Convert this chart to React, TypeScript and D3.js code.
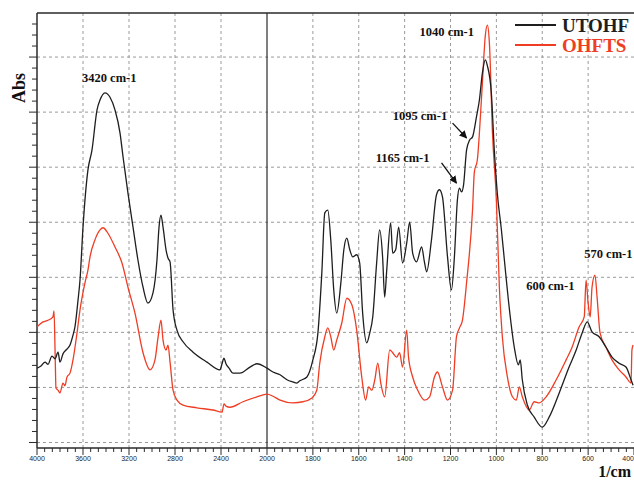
import { useEffect, useRef } from 'react';
import * as d3 from 'd3';

// wavenumbers (1/cm) and absorbance
const utohfWn = [4000, 3965, 3930, 3904, 3870, 3843, 3817, 3800, 3774, 3748, 3713, 3687, 3670, 3643, 3626, 3600, 3557, 3522, 3478, 3452, 3409, 3365, 3322, 3278, 3252, 3209, 3165, 3122, 3078, 3035, 2991, 2957, 2939, 2922, 2904, 2878, 2861, 2843, 2817, 2783, 2730, 2643, 2522, 2409, 2391, 2374, 2357, 2330, 2296, 2235, 2148, 2087, 2000, 1974, 1943, 1913, 1887, 1870, 1857, 1826, 1800, 1778, 1761, 1748, 1735, 1722, 1709, 1696, 1678, 1665, 1652, 1639, 1626, 1609, 1596, 1583, 1565, 1552, 1539, 1522, 1509, 1496, 1487, 1478, 1461, 1452, 1439, 1426, 1409, 1391, 1378, 1365, 1348, 1326, 1313, 1304, 1283, 1261, 1248, 1235, 1213, 1196, 1183, 1170, 1161, 1152, 1143, 1130, 1117, 1104, 1087, 1074, 1061, 1048, 1039, 1022, 1009, 996, 978, 965, 943, 922, 904, 896, 887, 865, 835, 800, 770, 726, 683, 652, 626, 604, 583, 552, 522, 496, 465, 435, 413, 404];
const utohfAbs = [0.135, 0.139, 0.146, 0.142, 0.157, 0.152, 0.164, 0.146, 0.161, 0.168, 0.177, 0.195, 0.21, 0.259, 0.295, 0.391, 0.495, 0.531, 0.604, 0.622, 0.635, 0.627, 0.604, 0.562, 0.519, 0.453, 0.391, 0.331, 0.282, 0.253, 0.272, 0.331, 0.391, 0.413, 0.391, 0.35, 0.335, 0.328, 0.241, 0.204, 0.183, 0.164, 0.146, 0.132, 0.143, 0.153, 0.143, 0.135, 0.126, 0.126, 0.137, 0.143, 0.135, 0.128, 0.123, 0.114, 0.11, 0.108, 0.112, 0.119, 0.15, 0.199, 0.308, 0.417, 0.422, 0.368, 0.277, 0.235, 0.29, 0.35, 0.371, 0.35, 0.337, 0.341, 0.326, 0.235, 0.181, 0.199, 0.228, 0.326, 0.386, 0.337, 0.264, 0.313, 0.399, 0.344, 0.35, 0.391, 0.326, 0.362, 0.4, 0.344, 0.328, 0.355, 0.326, 0.31, 0.368, 0.45, 0.459, 0.446, 0.337, 0.277, 0.337, 0.44, 0.462, 0.455, 0.468, 0.531, 0.549, 0.555, 0.591, 0.622, 0.671, 0.695, 0.684, 0.635, 0.531, 0.453, 0.386, 0.331, 0.241, 0.173, 0.141, 0.15, 0.114, 0.068, 0.046, 0.028, 0.046, 0.09, 0.137, 0.168, 0.199, 0.219, 0.201, 0.192, 0.173, 0.155, 0.144, 0.137, 0.114, 0.104];

const ohftsWn = [4000, 3948, 3904, 3861, 3852, 3843, 3835, 3817, 3800, 3774, 3757, 3739, 3713, 3687, 3652, 3626, 3583, 3557, 3539, 3496, 3452, 3426, 3383, 3322, 3261, 3209, 3148, 3078, 3017, 2974, 2948, 2922, 2904, 2878, 2861, 2843, 2817, 2783, 2730, 2609, 2470, 2391, 2374, 2357, 2322, 2209, 2087, 2000, 1974, 1943, 1887, 1843, 1804, 1783, 1770, 1748, 1735, 1722, 1709, 1696, 1674, 1652, 1630, 1609, 1587, 1570, 1557, 1543, 1530, 1517, 1504, 1487, 1465, 1452, 1435, 1422, 1409, 1391, 1383, 1365, 1343, 1313, 1291, 1270, 1257, 1235, 1213, 1191, 1174, 1161, 1148, 1130, 1104, 1096, 1083, 1074, 1061, 1048, 1039, 1030, 1017, 1000, 987, 974, 952, 930, 913, 900, 887, 857, 835, 813, 783, 739, 696, 670, 639, 617, 609, 600, 591, 583, 570, 561, 548, 522, 496, 465, 435, 413, 409, 404];
const ohftsAbs = [0.21, 0.219, 0.222, 0.228, 0.239, 0.168, 0.099, 0.095, 0.09, 0.108, 0.103, 0.119, 0.126, 0.15, 0.199, 0.241, 0.29, 0.313, 0.337, 0.368, 0.386, 0.39, 0.38, 0.355, 0.326, 0.282, 0.235, 0.163, 0.132, 0.15, 0.19, 0.222, 0.186, 0.168, 0.177, 0.146, 0.095, 0.077, 0.068, 0.063, 0.059, 0.055, 0.07, 0.066, 0.064, 0.074, 0.083, 0.088, 0.084, 0.077, 0.072, 0.074, 0.081, 0.095, 0.144, 0.192, 0.208, 0.192, 0.168, 0.186, 0.217, 0.262, 0.25, 0.204, 0.119, 0.077, 0.101, 0.095, 0.114, 0.144, 0.108, 0.083, 0.168, 0.163, 0.155, 0.163, 0.137, 0.204, 0.155, 0.119, 0.095, 0.077, 0.083, 0.119, 0.128, 0.101, 0.077, 0.095, 0.192, 0.208, 0.222, 0.29, 0.422, 0.491, 0.513, 0.562, 0.653, 0.74, 0.758, 0.722, 0.562, 0.44, 0.282, 0.192, 0.119, 0.083, 0.077, 0.101, 0.083, 0.059, 0.074, 0.072, 0.083, 0.114, 0.15, 0.173, 0.21, 0.228, 0.295, 0.253, 0.228, 0.282, 0.304, 0.264, 0.199, 0.173, 0.15, 0.132, 0.119, 0.108, 0.168, 0.177];

const xTicks = [4000, 3600, 3200, 2800, 2400, 2000, 1800, 1600, 1400, 1200, 1000, 800, 600, 400];
const yGrid = [0, 0.1, 0.2, 0.3, 0.4, 0.5, 0.6, 0.7];

// peak labels: text, wavenumber at the label's left edge, absorbance at its baseline
const peakLabels = [
  { text: '3420 cm-1', wn: 3609, abs: 0.655 },
  { text: '1040 cm-1', wn: 1335, abs: 0.738 },
  { text: '1095 cm-1', wn: 1452, abs: 0.586 },
  { text: '1165 cm-1', wn: 1526, abs: 0.509 },
  { text: '600 cm-1', wn: 870, abs: 0.277 },
  { text: '570 cm-1', wn: 617, abs: 0.335 },
];
// arrows from the labels to the shoulders
const arrows = [
  { x1: 1191, y1: 0.58, x2: 1130, y2: 0.553 },
  { x1: 1239, y1: 0.508, x2: 1174, y2: 0.471 },
];

const series = [
  { name: 'UTOHF', wn: utohfWn, abs: utohfAbs, color: '#1e1e1e' },
  { name: 'OHFTS', wn: ohftsWn, abs: ohftsAbs, color: '#ef3d24' },
];

export default function App() {
  const ref = useRef<SVGSVGElement>(null);

  useEffect(() => {
    const W = 634;
    const H = 481;
    const svg = d3.select(ref.current);
    svg.selectAll('*').remove();

    const x = d3.scaleLinear().domain([4000, 2000, 400]).range([37, 267, 634]);
    const y = d3.scaleLinear().domain([-0.01, 0.78]).range([448, 13]);
    const [yb, yt] = y.range();
    const serif = '"Liberation Serif", "Times New Roman", serif';

    svg.append('rect').attr('width', W).attr('height', H).attr('fill', '#fff');

    const defs = svg.append('defs');
    defs.append('clipPath').attr('id', 'plot')
      .append('rect').attr('x', 37).attr('y', yt).attr('width', W - 37).attr('height', yb - yt);
    defs.append('marker')
      .attr('id', 'arr').attr('viewBox', '0 0 10 10').attr('refX', 9).attr('refY', 5)
      .attr('markerWidth', 6).attr('markerHeight', 6).attr('orient', 'auto')
      .append('path').attr('d', 'M0,0 L10,5 L0,10 z').attr('fill', '#111');

    // grid
    const grid = svg.append('g').attr('stroke', '#9a9a9a').attr('stroke-width', 1).attr('stroke-dasharray', '3,3');
    grid.append('g').selectAll('line').data(yGrid).join('line')
      .attr('x1', 37).attr('x2', W).attr('y1', d => y(d)).attr('y2', d => y(d));
    grid.append('g').selectAll('line').data(xTicks.filter(d => d !== 4000 && d !== 2000 && d !== 400)).join('line')
      .attr('x1', d => x(d)).attr('x2', d => x(d)).attr('y1', yt).attr('y2', yb);

    // frame
    const frame = svg.append('g').attr('stroke', '#2a2a2a').attr('stroke-width', 1.5);
    frame.append('line').attr('x1', 37).attr('x2', W).attr('y1', yt).attr('y2', yt);
    frame.append('line').attr('x1', 37).attr('x2', 37).attr('y1', yt).attr('y2', yb);
    frame.append('line').attr('x1', 37).attr('x2', W).attr('y1', yb).attr('y2', yb);
    frame.append('line').attr('x1', x(2000)).attr('x2', x(2000)).attr('y1', yt).attr('y2', yb).attr('stroke-width', 1.2);

    // x ticks
    const minor: number[] = [];
    for (let i = 0; i < xTicks.length - 1; i++) {
      const a = xTicks[i];
      const b = xTicks[i + 1];
      for (let k = 1; k < 6; k++) minor.push(a + ((b - a) * k) / 6);
    }
    const ticks = svg.append('g').attr('stroke', '#2a2a2a').attr('stroke-width', 1);
    ticks.append('g').selectAll('line').data(xTicks).join('line')
      .attr('x1', d => x(d)).attr('x2', d => x(d)).attr('y1', yb).attr('y2', yb + 7);
    ticks.append('g').selectAll('line').data(minor).join('line')
      .attr('x1', d => x(d)).attr('x2', d => x(d)).attr('y1', yb).attr('y2', yb + 4);

    // y ticks (no labels)
    const yMinor = d3.range(0, 0.78, 0.02).filter(v => Math.round(v * 100) % 10 !== 0);
    ticks.append('g').selectAll('line').data(yGrid).join('line')
      .attr('x1', 29).attr('x2', 37).attr('y1', d => y(d)).attr('y2', d => y(d));
    ticks.append('g').selectAll('line').data(yMinor).join('line')
      .attr('x1', 32).attr('x2', 37).attr('y1', d => y(d)).attr('y2', d => y(d));

    svg.append('g').selectAll('text').data(xTicks).join('text')
      .attr('x', d => (d === 400 ? W : x(d))).attr('y', yb + 13)
      .attr('text-anchor', d => (d === 400 ? 'end' : 'middle'))
      .attr('font-family', 'Arial, sans-serif').attr('font-size', 7).attr('fill', '#222')
      .text(d => d);

    // spectra
    const line = d3.line<[number, number]>().x(d => x(d[0])).y(d => y(d[1])).curve(d3.curveMonotoneX);
    const plot = svg.append('g').attr('clip-path', 'url(#plot)');
    series.slice().reverse().forEach(s => {
      const pts = s.wn.map((w, i) => [w, s.abs[i]] as [number, number]);
      plot.append('path').datum(pts).attr('d', line).attr('fill', 'none')
        .attr('stroke', s.color).attr('stroke-width', 1.3).attr('stroke-linejoin', 'round');
    });

    // peak labels
    svg.append('g').selectAll('text').data(peakLabels).join('text')
      .attr('x', d => x(d.wn)).attr('y', d => y(d.abs))
      .attr('font-family', serif).attr('font-weight', 'bold').attr('font-size', 12.5).attr('fill', '#111')
      .text(d => d.text);
    svg.append('g').selectAll('line').data(arrows).join('line')
      .attr('x1', d => x(d.x1)).attr('y1', d => y(d.y1)).attr('x2', d => x(d.x2)).attr('y2', d => y(d.y2))
      .attr('stroke', '#111').attr('stroke-width', 1.3).attr('marker-end', 'url(#arr)');

    // legend
    const legend = svg.append('g');
    series.forEach((s, i) => {
      const ly = 25 + i * 20;
      legend.append('line').attr('x1', 515).attr('x2', 556).attr('y1', ly).attr('y2', ly)
        .attr('stroke', s.color).attr('stroke-width', 2);
      legend.append('text').attr('x', 562).attr('y', ly + 7)
        .attr('font-family', serif).attr('font-weight', 'bold').attr('font-size', 19)
        .attr('fill', s.color).text(s.name);
    });

    // axis titles
    svg.append('text').attr('transform', 'translate(25,88) rotate(-90)').attr('text-anchor', 'middle')
      .attr('font-family', serif).attr('font-weight', 'bold').attr('font-size', 18).attr('fill', '#111')
      .text('Abs');
    svg.append('text').attr('x', 631).attr('y', 477).attr('text-anchor', 'end')
      .attr('font-family', serif).attr('font-weight', 'bold').attr('font-size', 16).attr('fill', '#111')
      .text('1/cm');
  }, []);

  return (
    <svg ref={ref} width={634} height={481} style={{ position: 'absolute', left: 0, top: 0 }} />
  );
}
